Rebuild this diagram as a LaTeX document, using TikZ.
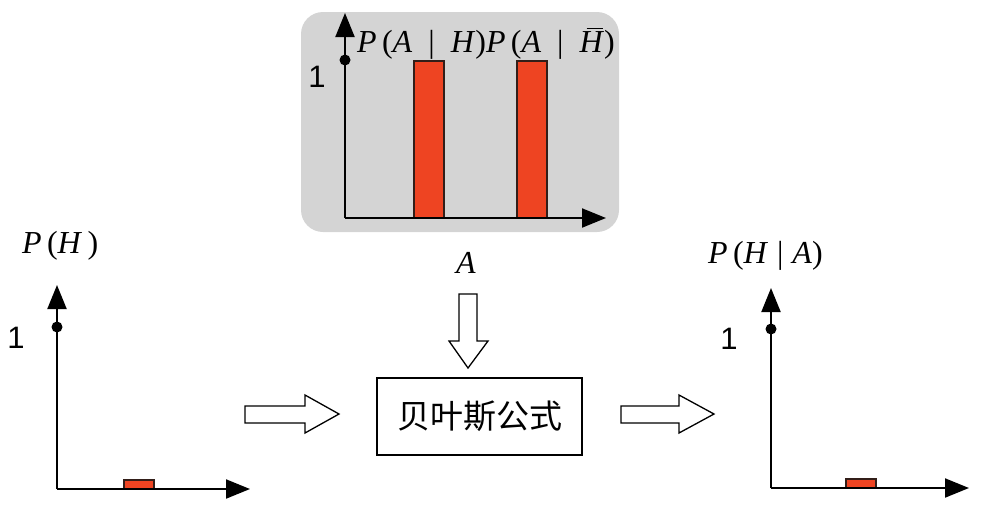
\documentclass[tikz,border=0pt]{standalone}
\usepackage{fontspec}
\setmainfont{Liberation Serif}
\newfontfamily\sansf{Liberation Sans}
\newfontfamily\cjk{Noto Sans CJK SC}
\usetikzlibrary{arrows.meta}
\definecolor{bargray}{RGB}{212,212,212}
\definecolor{barred}{RGB}{238,68,34}
\definecolor{bardraw}{RGB}{50,30,25}
\newcommand{\hbarit}{\textit{H}\llap{\raisebox{0.72em}{\rule{0.5em}{0.045em}}\kern0.05em}}
\newcommand{\bargap}{\hspace{0.5em}|\hspace{0.5em}}
\tikzset{
  axis/.style={line width=2pt,-{Triangle[length=24pt,width=19pt]}},
  barbox/.style={fill=barred,draw=bardraw,line width=1.5pt},
  dotm/.style={circle,fill=black,inner sep=0pt,minimum size=11pt},
  onelab/.style={font=\sansf\fontsize{31}{31}\selectfont,inner sep=0pt,anchor=base},
  mlab/.style={font=\fontsize{32}{32}\selectfont,inner sep=0pt},
  hollow/.style={draw=black,fill=white,line width=1.3pt,line join=miter}
}
\begin{document}
\begin{tikzpicture}[x=1pt,y=-1pt]
\useasboundingbox (0,0) rectangle (981,512);
% top panel
\fill[bargray,rounded corners=22pt] (301,12) rectangle (619,232);
\coordinate (o1) at (345,218);
\coordinate (y1) at (345,13);
\coordinate (x1) at (606,218);
\draw[barbox] (414,61) rectangle (444,218);
\draw[barbox] (517,61) rectangle (547,218);
\draw[axis] (o1) -- (y1);
\draw[axis] (o1) -- (x1);
\node[dotm] (d1) at (345,60) {};
\node[onelab] (one1) at (317,87) {1};
\node[mlab,anchor=base west] (lab1) at (357,52) {\textit{P\/}\,(\textit{A}\bargap\textit{H\/})\textit{P\/}\,(\textit{A}\bargap\hbarit\/)};
% left panel
\coordinate (o2) at (57,489);
\coordinate (y2) at (57,285);
\coordinate (x2) at (250,489);
\draw[barbox] (124,480) rectangle (154,489);
\draw[axis] (o2) -- (y2);
\draw[axis] (o2) -- (x2);
\node[dotm] (d2) at (57,327) {};
\node[onelab] (one2) at (16,348) {1};
\node[mlab,anchor=base west] (lab2) at (22,253) {\textit{P\/}\,(\textit{H\/}\,)};
% right panel
\coordinate (o3) at (771,488);
\coordinate (y3) at (771,288);
\coordinate (x3) at (969,488);
\draw[barbox] (846,479) rectangle (876,488);
\draw[axis] (o3) -- (y3);
\draw[axis] (o3) -- (x3);
\node[dotm] (d3) at (771,329) {};
\node[onelab] (one3) at (729,349) {1};
\node[mlab,anchor=base west] (lab3) at (708,263) {\textit{P\/}\,(\textit{H\/}\;|\;\textit{A\/})};
% middle
\node[mlab,anchor=base] (la) at (466,273) {\textit{A}};
\node[draw,line width=1.3pt,minimum width=205pt,minimum height=77pt,inner sep=0pt,font=\cjk\fontsize{33}{33}\selectfont] (bayes) at (479.5,416.5) {贝叶斯公式};
\draw[hollow] (459,294) -- (477,294) -- (477,341) -- (488,341) -- (468,368) -- (449,341) -- (459,341) -- cycle;
\draw[hollow] (245,406) -- (305,406) -- (305,395) -- (339,414) -- (305,433) -- (305,423) -- (245,423) -- cycle;
\draw[hollow] (621,406) -- (679,406) -- (679,395) -- (714,414) -- (679,433) -- (679,423) -- (621,423) -- cycle;
\end{tikzpicture}
\end{document}
